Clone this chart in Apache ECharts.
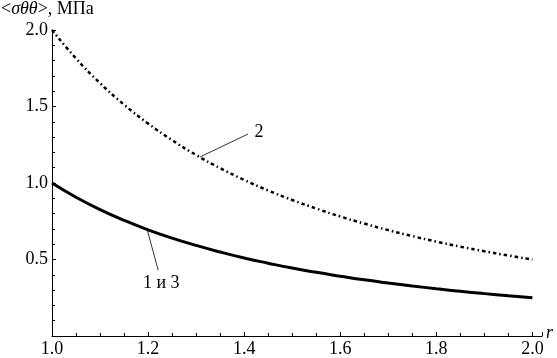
<!DOCTYPE html>
<html>
<head>
<meta charset="utf-8">
<script src="https://cdn.jsdelivr.net/npm/echarts@6/dist/echarts.min.js"></script>
<style>
  html, body { margin: 0; padding: 0; background: #fff; }
  #chart { width: 557px; height: 358px; }
</style>
</head>
<body>
<div id="chart"></div>
<script>
  // значения
  const rValues = [1.0, 1.05, 1.1, 1.15, 1.2, 1.25, 1.3, 1.35, 1.4, 1.45, 1.5,
    1.55, 1.6, 1.65, 1.7, 1.75, 1.8, 1.85, 1.9, 1.95, 2.0];
  const curve13 = [1.0, 0.907, 0.826, 0.756, 0.694, 0.64, 0.592, 0.549, 0.51, 0.476, 0.444,
    0.416, 0.391, 0.367, 0.346, 0.327, 0.309, 0.292, 0.277, 0.263, 0.25];
  const curve2 = [2.0, 1.814, 1.653, 1.512, 1.389, 1.28, 1.183, 1.097, 1.02, 0.951, 0.889,
    0.833, 0.781, 0.735, 0.692, 0.653, 0.617, 0.584, 0.554, 0.526, 0.5];
  const label2 = "2";
  const label13 = "1 и 3";

  const font = "'Liberation Serif', 'Times New Roman', serif";
  const chart = echarts.init(document.getElementById("chart"));

  const leader = (from, to, text, offset) => ({
    silent: true,
    symbol: "none",
    lineStyle: { color: "#000", width: 0.8, type: "solid" },
    label: {
      show: true,
      position: "end",
      formatter: text,
      fontFamily: font,
      fontSize: 18,
      color: "#000",
      distance: 4,
      offset: offset,
    },
    data: [[{ coord: from }, { coord: to }]],
  });

  chart.setOption({
    animation: false,
    grid: { left: 52, right: 15, top: 30, bottom: 22 },
    xAxis: {
      type: "value",
      min: 1,
      max: 2.02,
      interval: 0.2,
      axisLine: { lineStyle: { color: "#000", width: 1 } },
      axisTick: { inside: true, length: 4, lineStyle: { color: "#000" } },
      minorTick: { show: true, splitNumber: 4, length: 3, lineStyle: { color: "#000" } },
      splitLine: { show: false },
      axisLabel: {
        showMaxLabel: false,
        margin: 4,
        fontFamily: font,
        fontSize: 18,
        color: "#000",
        formatter: (v) => v.toFixed(1),
      },
    },
    yAxis: {
      type: "value",
      min: 0,
      max: 2.0,
      interval: 0.5,
      axisLine: { show: true, lineStyle: { color: "#000", width: 1 } },
      axisTick: { show: true, inside: true, length: 4, lineStyle: { color: "#000" } },
      minorTick: { show: true, splitNumber: 5, length: 3, lineStyle: { color: "#000" } },
      splitLine: { show: false },
      axisLabel: {
        showMinLabel: false,
        margin: 4,
        fontFamily: font,
        fontSize: 18,
        color: "#000",
        formatter: (v) => v.toFixed(1),
      },
    },
    graphic: [
      {
        type: "text",
        left: 1,
        top: 0,
        style: {
          text: "<{i|σθθ}>, МПа",
          fontFamily: font,
          fontSize: 18,
          fill: "#000",
          rich: {
            i: { fontFamily: font, fontSize: 18, fontStyle: "italic", fill: "#000" },
          },
        },
      },
      {
        type: "text",
        left: 546,
        top: 324,
        style: { text: "r", fontFamily: font, fontSize: 18, fontStyle: "italic", fill: "#000" },
      },
    ],
    series: [
      {
        name: label13,
        type: "line",
        smooth: true,
        symbol: "none",
        lineStyle: { color: "#000", width: 3 },
        data: rValues.map((r, i) => [r, curve13[i]]),
        markLine: leader([1.198, 0.697], [1.221, 0.43], label13, [2, 0]),
      },
      {
        name: label2,
        type: "line",
        smooth: true,
        symbol: "none",
        lineStyle: { color: "#000", width: 2.5, type: [3.5, 3, 1.5, 3], cap: "butt" },
        data: rValues.map((r, i) => [r, curve2[i]]),
        markLine: leader([1.308, 1.17], [1.408, 1.32], label2, [3, 0]),
      },
    ],
  });
</script>
</body>
</html>
